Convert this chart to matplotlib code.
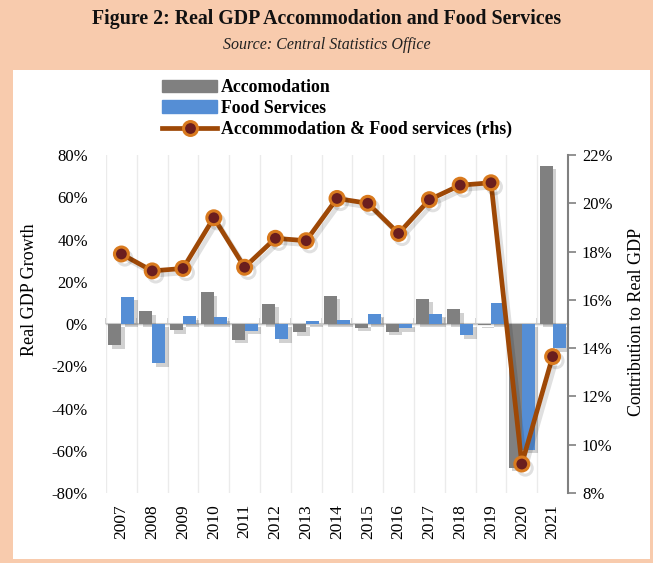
import matplotlib
matplotlib.use("Agg")
import matplotlib.pyplot as plt
import matplotlib.patheffects as pe
from matplotlib.patches import Rectangle
from matplotlib.lines import Line2D
from matplotlib.ticker import FuncFormatter
import numpy as np

plt.rcParams['font.family'] = ['Liberation Serif', 'DejaVu Serif']

years = ['2007', '2008', '2009', '2010', '2011', '2012', '2013', '2014',
         '2015', '2016', '2017', '2018', '2019', '2020', '2021']
accommodation = [-10.0, 6.0, -3.0, 15.0, -7.4, 9.7, -3.9, 13.4,
                 -1.9, -3.6, 12.0, 7.0, -0.3, -68.0, 75.0]
food_services = [13.0, -18.5, 3.6, 3.2, -3.3, -7.2, 1.3, 1.8,
                 4.9, -2.0, 4.9, -5.4, 10.0, -59.5, -11.5]
contribution = [17.9, 17.2, 17.3, 19.4, 17.35, 18.55, 18.45, 20.2,
                20.0, 18.75, 20.15, 20.75, 20.85, 9.2, 13.65]

PEACH = '#F8CBAD'
GRAY = '#808080'
BLUE = '#558ED5'
LINE = '#9E4806'

W, H = 653, 563
fig = plt.figure(figsize=(W / 100, H / 100), dpi=100)
fig.patch.set_facecolor(PEACH)

# white chart panel below the header band
fig.add_artist(Rectangle((13 / W, 4 / H), (650 - 13) / W, (559 - 70) / H,
                         transform=fig.transFigure, facecolor='white', edgecolor='none', zorder=0))

fig.text(0.5, 1 - 19 / H, 'Figure 2: Real GDP Accommodation and Food Services',
         ha='center', va='center', fontsize=14.3, fontweight='bold', color='#111111')
fig.text(0.5, 1 - 45 / H, 'Source: Central Statistics Office',
         ha='center', va='center', fontsize=11.5, style='italic', color='#222222')

ax = fig.add_axes([106 / W, 1 - 493 / H, (568 - 106) / W, (493 - 155) / H])
ax.set_facecolor('none')
x = np.arange(len(years))
w = 0.42
shadow = [pe.SimplePatchShadow(offset=(2.5, -2.5), shadow_rgbFace='#000000', alpha=0.18), pe.Normal()]
b1 = ax.bar(x - 0.21, accommodation, w, color=GRAY, zorder=3, label='Accomodation')
b2 = ax.bar(x + 0.21, food_services, w, color=BLUE, zorder=3, label='Food Services')
for bar in list(b1) + list(b2):
    bar.set_path_effects(shadow)

ax.set_xlim(-0.5, len(years) - 0.5)
ax.set_ylim(-80, 80)
ax.set_yticks(np.arange(-80, 81, 20))
ax.yaxis.set_major_formatter(FuncFormatter(lambda v, p: f'{v:.0f}%'))
ax.tick_params(axis='y', length=0, pad=13, labelsize=12)
ax.set_xticks(x)
ax.set_xticklabels(years, rotation=90, fontsize=12.5)
ax.tick_params(axis='x', length=0, pad=8)
for s in ax.spines.values():
    s.set_visible(False)

# light vertical separators between years
for b in np.arange(-0.5, len(years), 1.0):
    ax.axvline(b, color='#EBEBEB', lw=1, zorder=1)

# zero line with small category ticks
ax.axhline(0, color='#C8C8C8', lw=1.5, zorder=2)
sec = ax.secondary_xaxis(0.5)
sec.set_xticks(np.arange(-0.5, len(years), 1.0))
sec.set_xticklabels([])
sec.tick_params(length=4, color='#C8C8C8', width=1.2, direction='out')
sec.spines['bottom'].set_visible(False)

ax.set_ylabel('Real GDP Growth', fontsize=13)
ax.yaxis.set_label_coords((38 - 106) / 462, (493 - 290) / 338)

ax2 = ax.twinx()
line_fx = [pe.SimpleLineShadow(offset=(2.5, -3), shadow_color='#000000', alpha=0.12), pe.Normal()]
ln, = ax2.plot(x, contribution, color=LINE, lw=3.4, marker='o', markersize=10,
               markerfacecolor='#6B1E1E', markeredgecolor='#D97A1E', markeredgewidth=2.2,
               zorder=5, path_effects=line_fx, label='Accommodation & Food services (rhs)')
ax2.set_ylim(8, 22)
ax2.set_yticks(np.arange(8, 23, 2))
ax2.yaxis.set_major_formatter(FuncFormatter(lambda v, p: f'{v:.0f}%'))
ax2.tick_params(axis='y', length=6, color=GRAY, width=1.2, labelsize=12, pad=4)
for name, s in ax2.spines.items():
    s.set_visible(name == 'right')
ax2.spines['right'].set_color(GRAY)
ax2.spines['right'].set_linewidth(1.5)
ax2.set_ylabel('Contribution to Real GDP', fontsize=13)
ax2.yaxis.set_label_coords((628 - 106) / 462, (493 - 322) / 338)

handles = [Rectangle((0, 0), 1, 1, color=GRAY), Rectangle((0, 0), 1, 1, color=BLUE),
           Line2D([], [], color=LINE, lw=3.4, marker='o', markersize=10,
                  markerfacecolor='#6B1E1E', markeredgecolor='#D97A1E', markeredgewidth=2.2)]
labels = ['Accomodation', 'Food Services', 'Accommodation & Food services (rhs)']
fig.legend(handles, labels, loc='upper left', bbox_to_anchor=(162 / W, 1 - 79 / H),
           frameon=False, handlelength=3.1, handleheight=0.7, labelspacing=0.22,
           handletextpad=0.2, borderpad=0, borderaxespad=0,
           prop={'size': 12.8, 'weight': 'bold'})

fig.savefig('out.png', dpi=100, facecolor=PEACH)
